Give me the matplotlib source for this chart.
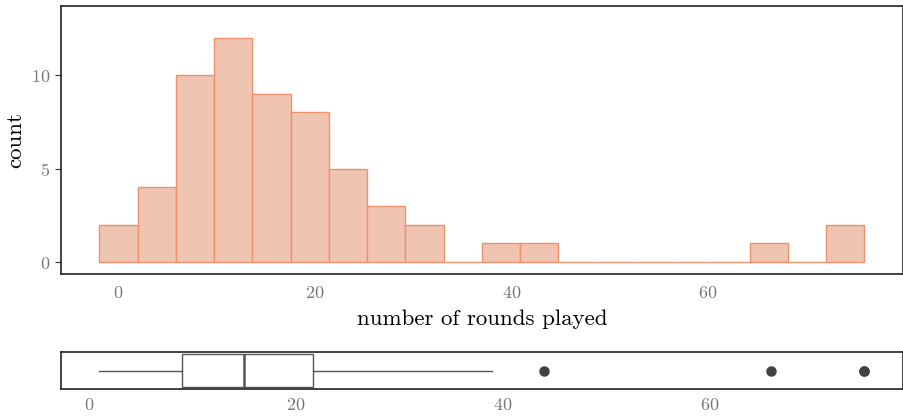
import numpy as np
import matplotlib
matplotlib.use("Agg")
import matplotlib.pyplot as plt

plt.rcParams['font.family'] = ['cmr10', 'DejaVu Serif']
plt.rcParams['axes.formatter.use_mathtext'] = True

# histogram: 20 bins from data range 1..75 (ggplot bins=20)
bin_width = 74 / 19
bin_start = -bin_width / 2
counts = [2, 4, 10, 12, 9, 8, 5, 3, 2, 0, 1, 1, 0, 0, 0, 0, 0, 1, 0, 2]

# boxplot summary of the same rounds
box_stats = {"whislo": 1, "q1": 9, "med": 15, "q3": 21.7, "whishi": 39,
             "fliers": [44, 66, 75, 75]}

xticks = [0, 20, 40, 60]
yticks = [0, 5, 10]

edges = bin_start + bin_width * np.arange(len(counts) + 1)
lefts = edges[:-1]

fig = plt.figure(figsize=(9.04, 4.17), dpi=100)
ax = fig.add_axes([0.0675, 0.343, 0.931, 0.643])
ax2 = fig.add_axes([0.0675, 0.067, 0.931, 0.089])

ax.bar(lefts, counts, width=bin_width, align="edge",
       color="#EFC5B1", edgecolor="#EE916C", linewidth=1.0)
rng = edges[-1] - edges[0]
ax.set_xlim(edges[0] - 0.05 * rng, edges[-1] + 0.05 * rng)
ax.set_ylim(-0.64, 13.7)
ax.set_xticks(xticks)
ax.set_yticks(yticks)
ax.set_xlabel("number of rounds played", fontsize=16.5, labelpad=6)
ax.set_ylabel("count", fontsize=16.5, labelpad=4)
ax.tick_params(axis="x", length=0, pad=8, labelsize=13, labelcolor="#777777")
ax.tick_params(axis="y", length=4, width=0.8, color="#333333", pad=4,
               labelsize=13, labelcolor="#777777")

bxp = ax2.bxp([box_stats], vert=False, widths=0.75, positions=[0],
              patch_artist=True, showcaps=False,
              boxprops=dict(facecolor="white", edgecolor="#555555", linewidth=1.0),
              whiskerprops=dict(color="#555555", linewidth=1.0),
              medianprops=dict(color="#555555", linewidth=1.8),
              flierprops=dict(marker="o", markerfacecolor="#404040",
                              markeredgecolor="#404040", markersize=6.5))
ax2.set_xlim(1 - 0.05 * 74, 75 + 0.05 * 74)
ax2.set_ylim(-0.4125, 0.4125)
ax2.set_yticks([])
ax2.set_xticks(xticks)
ax2.tick_params(axis="x", length=0, pad=6, labelsize=13, labelcolor="#777777")

for a in (ax, ax2):
    for s in a.spines.values():
        s.set_color("#222222")
        s.set_linewidth(1.2)

fig.savefig("out.png", dpi=100)
